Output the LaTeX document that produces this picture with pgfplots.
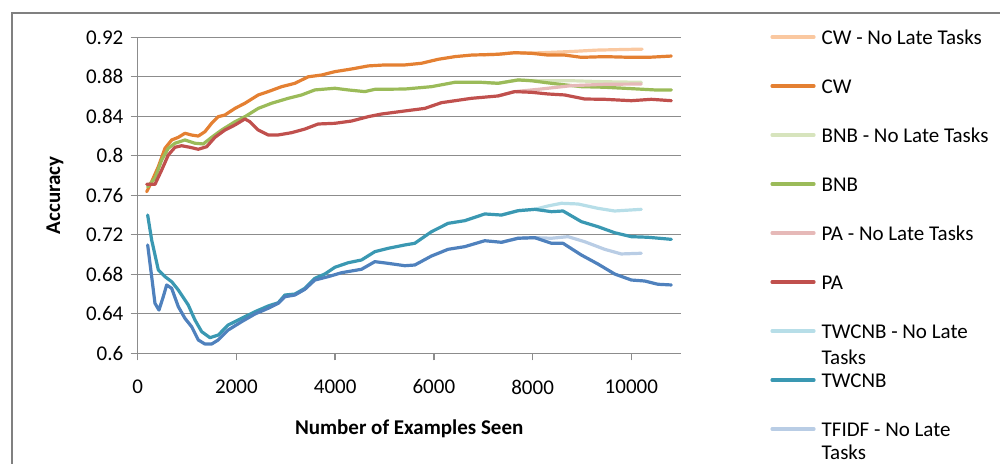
\documentclass[border=0pt]{standalone}
\usepackage{pgfplots}
\pgfplotsset{compat=1.18}
\usepackage{fontspec}
\setmainfont{Carlito}

\definecolor{cwL}{RGB}{250,200,160}
\definecolor{cwD}{RGB}{228,128,50}
\definecolor{bnbL}{RGB}{215,228,189}
\definecolor{bnbD}{RGB}{155,187,89}
\definecolor{paL}{RGB}{230,185,184}
\definecolor{paD}{RGB}{192,80,77}
\definecolor{twL}{RGB}{183,222,232}
\definecolor{twD}{RGB}{58,152,178}
\definecolor{tfL}{RGB}{185,205,229}
\definecolor{tfD}{RGB}{79,129,189}
\definecolor{gridgray}{RGB}{140,140,140}
\definecolor{framegray}{RGB}{128,128,128}

% two-line legend text with a given line pitch
\newcommand{\twolines}[3][13pt]{\vtop{\baselineskip=#1\hbox{#2}\hbox{#3}}}

\begin{document}
\fontsize{10.5}{12.5}\selectfont
\begin{tikzpicture}[font=\fontsize{10.5}{12.5}\selectfont]
\useasboundingbox (0,0) rectangle (500pt,232pt);
\begin{scope}
  \clip (0,0) rectangle (500pt,232pt);
  \draw[framegray, line width=1pt] (6.15pt,-20pt) rectangle (520pt,225.35pt);
\end{scope}
\begin{axis}[
  at={(68.85pt,55.35pt)}, anchor=south west,
  scale only axis, width=271.5pt, height=158pt,
  font=\fontsize{10.5}{12.5}\selectfont,
  xmin=0, xmax=11000, ymin=0.6, ymax=0.92,
  xtick={0,2000,4000,6000,8000,10000},
  ytick={0.6,0.64,0.68,0.72,0.76,0.8,0.84,0.88,0.92},
  scaled ticks=false,
  /pgf/number format/1000 sep={},
  /pgf/number format/assume math mode=true,
  axis lines*=left,
  axis line style={gridgray, line width=0.7pt},
  tick align=outside, major tick length=3.5pt,
  tick style={gridgray, line width=0.7pt},
  xticklabel style={yshift=-6pt},
  ymajorgrids, grid style={gridgray, line width=0.6pt},
  xlabel={\bfseries Number of Examples Seen},
  ylabel={\bfseries Accuracy},
  xlabel style={at={(axis description cs:0.5,-0.2585)}, anchor=base},
  ylabel style={at={(axis description cs:-0.143,0.5)}, anchor=base},
  legend cell align=left,
  legend style={draw=none, fill=none, inner sep=0pt, row sep=0pt, column sep=3pt,
    font=\fontsize{10.5}{12.5}\selectfont,
    at={(axis description cs:1.1645,1.0797)}, anchor=north west,
    nodes={inner sep=0pt, text height=15.95pt, text depth=8.55pt}},
  legend image code/.code={\draw[#1] (0pt,0pt)--(21pt,0pt);},
  every axis plot/.append style={line width=1.6pt, line join=round, line cap=round},
]
% CW, no late tasks
\addplot[cwL] coordinates {
(7000,0.9022)(7300,0.9028)(7638,0.9044)(7976,0.9040)(8300,0.9046)(8785,0.9056)
(9292,0.9070)(9800,0.9076)(10220,0.9080)};
\addlegendentry{CW - No Late Tasks}
% CW
\addplot[cwD] coordinates {
(182,0.7636)(283,0.7738)(418,0.7890)(553,0.8076)(688,0.8160)(823,0.8187)
(957,0.8228)(1093,0.8210)(1227,0.8200)(1362,0.8244)(1498,0.8329)(1632,0.8396)
(1767,0.8413)(1970,0.8480)(2172,0.8532)(2442,0.8616)(2644,0.8650)(2915,0.8700)
(3184,0.8734)(3454,0.8800)(3725,0.8818)(3994,0.8852)(4332,0.8879)(4668,0.8910)
(5006,0.8920)(5411,0.8920)(5749,0.8937)(6085,0.8977)(6423,0.9004)(6761,0.9020)
(7300,0.9028)(7638,0.9044)(7976,0.9038)(8312,0.9020)(8650,0.9020)(8988,0.8997)
(9460,0.9004)(10000,0.8997)(10336,0.8997)(10810,0.9010)};
\addlegendentry{CW}
% BNB, no late tasks
\addplot[bnbL] coordinates {
(7000,0.8744)(7300,0.8734)(7705,0.8768)(7976,0.8762)(8381,0.8760)(8785,0.8760)
(9460,0.8750)(10202,0.8744)};
\addlegendentry{BNB - No Late Tasks}
% BNB
\addplot[bnbD] coordinates {
(200,0.7687)(350,0.7772)(486,0.7957)(620,0.8076)(755,0.8127)(957,0.8160)
(1160,0.8127)(1328,0.8120)(1498,0.8187)(1700,0.8261)(1970,0.8345)(2172,0.8396)
(2442,0.8480)(2712,0.8532)(3049,0.8582)(3320,0.8616)(3589,0.8667)(3994,0.8684)
(4263,0.8667)(4601,0.8650)(4804,0.8673)(5411,0.8676)(5951,0.8700)(6423,0.8744)
(6963,0.8744)(7300,0.8734)(7705,0.8768)(7976,0.8760)(8381,0.8734)(8988,0.8700)
(9460,0.8694)(10000,0.8680)(10472,0.8667)(10810,0.8667)};
\addlegendentry{BNB}
% PA, no late tasks
\addplot[paL] coordinates {
(7300,0.8606)(7638,0.8650)(8109,0.8673)(8785,0.8710)(9460,0.8724)(10202,0.8727)};
\addlegendentry{PA - No Late Tasks}
% PA
\addplot[paD] coordinates {
(182,0.7711)(350,0.7711)(486,0.7856)(620,0.8008)(755,0.8086)(890,0.8102)
(1059,0.8086)(1227,0.8066)(1397,0.8092)(1565,0.8187)(1767,0.8261)(1970,0.8312)
(2172,0.8373)(2273,0.8345)(2442,0.8261)(2644,0.8211)(2846,0.8211)(3117,0.8234)
(3387,0.8271)(3656,0.8322)(3994,0.8329)(4332,0.8352)(4668,0.8396)(4939,0.8423)
(5411,0.8454)(5816,0.8480)(6154,0.8538)(6761,0.8582)(7300,0.8606)(7638,0.8650)
(7976,0.8643)(8312,0.8626)(8650,0.8616)(9055,0.8575)(9460,0.8572)(10000,0.8558)
(10405,0.8572)(10810,0.8558)};
\addlegendentry{PA}
% TWCNB, no late tasks
\addplot[twL] coordinates {
(7369,0.7400)(7705,0.7444)(8043,0.7458)(8312,0.7492)(8583,0.7519)(8919,0.7512)
(9324,0.7468)(9662,0.7441)(10202,0.7458)};
\addlegendentry{\twolines{TWCNB - No Late}{Tasks}}
% TWCNB
\addplot[twD] coordinates {
(202,0.7400)(283,0.7147)(418,0.6844)(553,0.6776)(688,0.6725)(823,0.6641)
(1024,0.6489)(1160,0.6337)(1296,0.6219)(1464,0.6158)(1632,0.6185)(1834,0.6287)
(2105,0.6354)(2375,0.6421)(2644,0.6479)(2846,0.6512)(2982,0.6590)(3184,0.6600)
(3387,0.6658)(3589,0.6759)(3791,0.6803)(3994,0.6871)(4263,0.6917)(4534,0.6945)
(4804,0.7029)(5073,0.7063)(5411,0.7097)(5613,0.7114)(5951,0.7231)(6288,0.7316)
(6626,0.7343)(7031,0.7411)(7369,0.7400)(7705,0.7444)(8043,0.7458)(8381,0.7434)
(8616,0.7441)(8988,0.7333)(9324,0.7282)(9662,0.7221)(10000,0.7181)(10336,0.7175)
(10810,0.7154)};
\addlegendentry{TWCNB}
% TFIDF, no late tasks
\addplot[tfL] coordinates {
(7369,0.7124)(7705,0.7165)(8043,0.7171)(8381,0.7165)(8717,0.7181)(9055,0.7130)
(9460,0.7053)(9797,0.7006)(10202,0.7013)};
\addlegendentry{\twolines[11.5pt]{TFIDF - No Late}{Tasks}}
% TFIDF
\addplot[tfD, forget plot] coordinates {
(202,0.7097)(283,0.6776)(350,0.6506)(431,0.6438)(518,0.6573)(587,0.6692)
(688,0.6658)(823,0.6472)(957,0.6354)(1093,0.6269)(1227,0.6135)(1362,0.6094)
(1498,0.6094)(1632,0.6135)(1834,0.6236)(2105,0.6320)(2375,0.6398)(2644,0.6456)
(2846,0.6506)(2982,0.6573)(3184,0.6590)(3387,0.6648)(3589,0.6742)(3859,0.6776)
(4130,0.6816)(4534,0.6851)(4804,0.6928)(5073,0.6911)(5411,0.6887)(5613,0.6894)
(5951,0.6985)(6288,0.7053)(6626,0.7080)(7031,0.7140)(7369,0.7124)(7705,0.7165)
(8043,0.7171)(8381,0.7114)(8616,0.7114)(8988,0.6995)(9324,0.6904)(9662,0.6803)
(10000,0.6742)(10270,0.6732)(10539,0.6699)(10810,0.6692)};
\end{axis}
\end{tikzpicture}
\end{document}
